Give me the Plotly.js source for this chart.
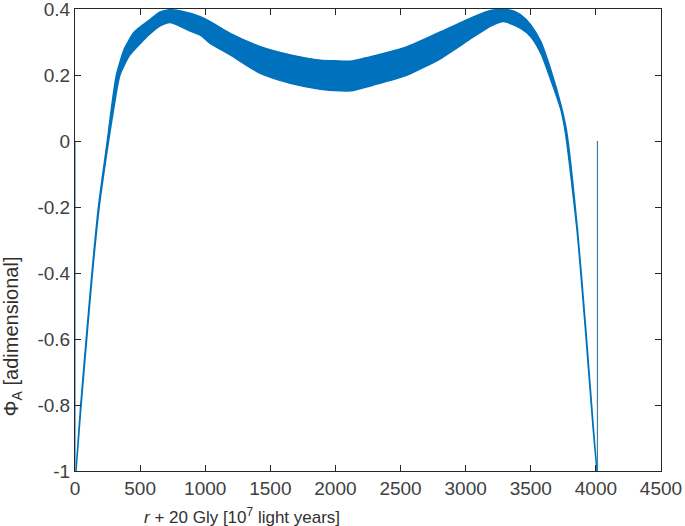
<!DOCTYPE html>
<html>
<head>
<meta charset="utf-8">
<script src="https://cdn.plot.ly/plotly-3.0.1.min.js"></script>
<style>
  html, body { margin: 0; padding: 0; background: #fff; }
  #phi_plot { width: 685px; height: 526px; }
</style>
</head>
<body>
<div id="phi_plot"></div>
<script>
// upper edge of the oscillating band
var upperX = [8, 44, 86, 130, 180, 248, 280, 318, 380, 455, 577, 650, 731, 820, 962, 1038, 1192, 1423, 1654, 1885, 2000, 2115, 2295, 2551, 2808, 3064, 3200, 3292, 3380, 3423, 3500, 3577, 3654, 3731, 3775, 3859, 3923, 3982, 4008];
var upperY = [-1, -0.8, -0.6, -0.4, -0.2, 0, 0.1, 0.2, 0.28, 0.33, 0.368, 0.39, 0.398, 0.393, 0.377, 0.362, 0.326, 0.286, 0.261, 0.245, 0.243, 0.242, 0.258, 0.286, 0.331, 0.377, 0.396, 0.399, 0.392, 0.382, 0.352, 0.301, 0.215, 0.11, 0.03, -0.27, -0.573, -0.876, -1];

// lower edge of the band
var lowerX = [8, 47, 90, 134, 186, 258, 298, 345, 420, 500, 577, 650, 731, 885, 962, 1038, 1192, 1423, 1654, 1885, 2038, 2115, 2295, 2551, 2808, 3050, 3200, 3292, 3423, 3500, 3577, 3654, 3731, 3768, 3855, 3920, 3980, 4008];
var lowerY = [-1, -0.8, -0.6, -0.4, -0.2, 0, 0.1, 0.2, 0.26, 0.295, 0.325, 0.348, 0.359, 0.333, 0.321, 0.296, 0.261, 0.205, 0.175, 0.157, 0.152, 0.152, 0.17, 0.2, 0.25, 0.313, 0.35, 0.362, 0.341, 0.316, 0.266, 0.185, 0.095, 0.02, -0.27, -0.573, -0.876, -1];

// the two vertical jumps at the ends
var leftJumpX = [0, 0];
var leftJumpY = [0, -1];
var rightJumpX = [4012, 4012];
var rightJumpY = [-1, 0];

var xTicks = [0, 500, 1000, 1500, 2000, 2500, 3000, 3500, 4000, 4500];
var yTicks = [0.4, 0.2, 0, -0.2, -0.4, -0.6, -0.8, -1];
var yTickText = ['0.4', '0.2', '0', '-0.2', '-0.4', '-0.6', '-0.8', '-1'];

var blue = '#0072BD';

var band = {
    x: upperX.concat(lowerX.slice().reverse()),
    y: upperY.concat(lowerY.slice().reverse()),
    type: 'scatter',
    mode: 'lines',
    fill: 'toself',
    fillcolor: blue,
    line: {color: blue, width: 1.5, shape: 'spline', smoothing: 0.6},
    hoverinfo: 'skip'
};

var leftJump = {
    x: leftJumpX, y: leftJumpY,
    type: 'scatter', mode: 'lines',
    line: {color: '#3a7fa8', width: 1.2}
};

var rightJump = {
    x: rightJumpX, y: rightJumpY,
    type: 'scatter', mode: 'lines',
    line: {color: '#3a7fa8', width: 1.2}
};

var data = [band, leftJump, rightJump];

var axisFont = {family: 'Liberation Sans, Arial, sans-serif', size: 19, color: '#404040'};

var layout = {
    width: 685,
    height: 526,
    showlegend: false,
    paper_bgcolor: '#ffffff',
    plot_bgcolor: '#ffffff',
    margin: {l: 75, r: 24, t: 9, b: 55},
    xaxis: {
        range: [0, 4500],
        tickvals: xTicks,
        ticks: 'inside',
        ticklen: 6,
        tickcolor: '#262626',
        showline: true,
        linecolor: '#262626',
        linewidth: 1,
        mirror: 'ticks',
        showgrid: false,
        zeroline: false,
        ticklabeloverflow: 'allow',
        tickfont: axisFont
    },
    yaxis: {
        range: [-1.00001, 0.40001],
        tickvals: yTicks,
        ticktext: yTickText,
        ticks: 'inside',
        ticklen: 6,
        tickcolor: '#262626',
        showline: true,
        linecolor: '#262626',
        linewidth: 1,
        mirror: 'ticks',
        showgrid: false,
        zeroline: false,
        ticklabeloverflow: 'allow',
        tickfont: axisFont
    },
    annotations: [
        {
            text: '<i>r</i> + 20 Gly [10<sup>7</sup> light years]',
            xref: 'paper', yref: 'paper',
            x: 0.285, y: -0.098,
            xanchor: 'center', yanchor: 'middle',
            showarrow: false,
            font: {family: 'Liberation Sans, Arial, sans-serif', size: 17, color: '#303030'}
        },
        {
            text: 'Φ<sub>A</sub> [adimensional]',
            xref: 'paper', yref: 'paper',
            x: -0.107, y: 0.292,
            xanchor: 'center', yanchor: 'middle',
            textangle: -90,
            showarrow: false,
            font: {family: 'Liberation Sans, Arial, sans-serif', size: 20, color: '#303030'}
        }
    ]
};

Plotly.newPlot('phi_plot', data, layout, {displayModeBar: false, staticPlot: true});
</script>
</body>
</html>
